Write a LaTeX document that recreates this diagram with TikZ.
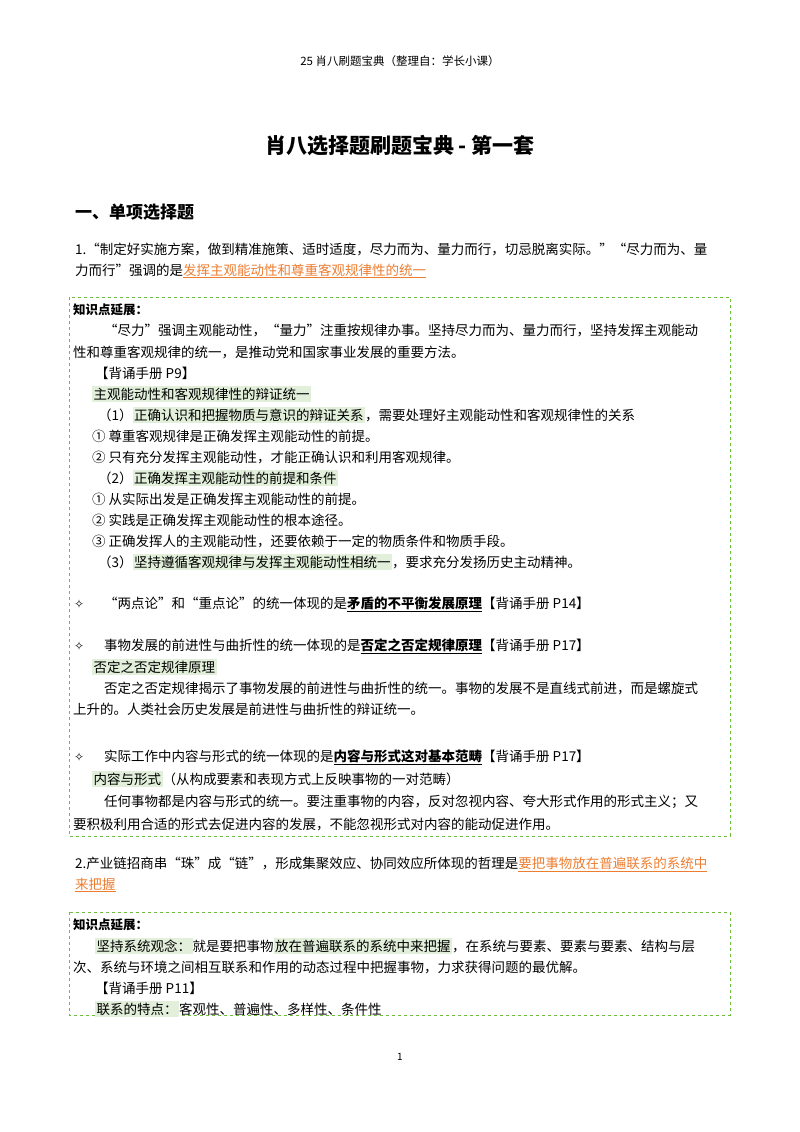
\documentclass[tikz,border=0pt]{standalone}
\usepackage{fontspec}
\setmainfont{Noto Sans CJK SC}
\newfontfamily\djv{DejaVu Sans}
\usepackage{xcolor}
\definecolor{hlg}{HTML}{E2EFDA}
\definecolor{org}{HTML}{ED7D31}
\definecolor{boxg}{HTML}{6CBF3C}
\XeTeXlinebreaklocale "zh"
\XeTeXlinebreakskip=0pt plus 3pt
\newcommand\hlg[1]{{\setlength\fboxsep{1.5pt}\colorbox{hlg}{#1}}}
\newcommand\org[1]{\textcolor{org}{\underline{#1}}}
\newcommand\bun[1]{\underline{\textbf{#1}}}
\newcommand\full[2]{\makebox[#1pt][s]{#2}}
\begin{document}
\begin{tikzpicture}[x=1pt,y=-1pt,
  t/.style={anchor=west,inner sep=0pt,font=\fontsize{13.5}{14}\selectfont},
  dia/.style={anchor=west,inner sep=0pt,font=\djv\fontsize{12}{13}\selectfont},
  kbox/.style={draw=boxg,dashed,line width=0.7pt}]
\useasboundingbox (0,0) rectangle (800,1132);
\node[inner sep=0,font=\fontsize{11.5}{12}\selectfont] (hdr) at (400,61) {25 肖八刷题宝典（整理自：学长小课）};
\node[inner sep=0,font=\fontsize{21}{22}\selectfont\bfseries] (title) at (400,146) {肖八选择题刷题宝典 - 第一套};
\node[t,font=\fontsize{17}{18}\selectfont\bfseries] (sec) at (75,212) {一、单项选择题};
\node[t] at (75,250) {\full{652}{1.“制定好实施方案，做到精准施策、适时适度，尽力而为、量力而行，切忌脱离实际。”“尽力而为、量}};
\node[t] at (75,271) {力而行”强调的是\org{发挥主观能动性和尊重客观规律性的统一}};
% box 1
\draw[kbox] (69,297) rectangle (730,836);
\node[t,font=\fontsize{12.5}{13}\selectfont\bfseries] at (73,310) {知识点延展：};
\node[t] at (104,331) {\full{618}{“尽力”强调主观能动性，“量力”注重按规律办事。坚持尽力而为、量力而行，坚持发挥主观能动}};
\node[t] at (73,352) {性和尊重客观规律的统一，是推动党和国家事业发展的重要方法。};
\node[t] at (95,373) {【背诵手册 P9】};
\node[t] at (92,394) {\hlg{主观能动性和客观规律性的辩证统一}};
\node[t] at (98,415) {（1）\hlg{正确认识和把握物质与意识的辩证关系}，需要处理好主观能动性和客观规律性的关系};
\node[t] at (92,436) {① 尊重客观规律是正确发挥主观能动性的前提。};
\node[t] at (92,457) {② 只有充分发挥主观能动性，才能正确认识和利用客观规律。};
\node[t] at (98,478) {（2）\hlg{正确发挥主观能动性的前提和条件}};
\node[t] at (92,499) {① 从实际出发是正确发挥主观能动性的前提。};
\node[t] at (92,520) {② 实践是正确发挥主观能动性的根本途径。};
\node[t] at (92,541) {③ 正确发挥人的主观能动性，还要依赖于一定的物质条件和物质手段。};
\node[t] at (98,562) {（3）\hlg{坚持遵循客观规律与发挥主观能动性相统一}，要求充分发扬历史主动精神。};
\node[dia] at (74,604) {✧};
\node[t] at (104,604) {“两点论”和“重点论”的统一体现的是\bun{矛盾的不平衡发展原理}【背诵手册 P14】};
\node[dia] at (74,646) {✧};
\node[t] at (104,646) {事物发展的前进性与曲折性的统一体现的是\bun{否定之否定规律原理}【背诵手册 P17】};
\node[t] at (92,667) {\hlg{否定之否定规律原理}};
\node[t] at (104,688) {\full{618}{否定之否定规律揭示了事物发展的前进性与曲折性的统一。事物的发展不是直线式前进，而是螺旋式}};
\node[t] at (73,709) {上升的。人类社会历史发展是前进性与曲折性的辩证统一。};
\node[dia] at (74,757) {✧};
\node[t] at (104,757) {实际工作中内容与形式的统一体现的是\bun{内容与形式这对基本范畴}【背诵手册 P17】};
\node[t] at (92,779) {\hlg{内容与形式}（从构成要素和表现方式上反映事物的一对范畴）};
\node[t] at (104,802) {\full{618}{任何事物都是内容与形式的统一。要注重事物的内容，反对忽视内容、夸大形式作用的形式主义；又}};
\node[t] at (73,824) {要积极利用合适的形式去促进内容的发展，不能忽视形式对内容的能动促进作用。};
% Q2
\node[t] at (75,864) {\full{652}{2.产业链招商串“珠”成“链”，形成集聚效应、协同效应所体现的哲理是\org{要把事物放在普遍联系的系统中}}};
\node[t] at (75,885) {\org{来把握}};
% box 2
\draw[kbox] (69,912) rectangle (730,1015);
\node[t,font=\fontsize{12.5}{13}\selectfont\bfseries] at (73,925) {知识点延展：};
\node[t] at (95,946) {\full{627}{\hlg{坚持系统观念：}就是要把事物\hlg{放在普遍联系的系统中来把握}，在系统与要素、要素与要素、结构与层}};
\node[t] at (73,967) {次、系统与环境之间相互联系和作用的动态过程中把握事物，力求获得问题的最优解。};
\node[t] at (95,988) {【背诵手册 P11】};
\node[t] at (95,1009) {\hlg{联系的特点：}客观性、普遍性、多样性、条件性};
\node[inner sep=0,font=\fontsize{10}{11}\selectfont] (pg) at (400,1057) {1};
\end{tikzpicture}
\end{document}
